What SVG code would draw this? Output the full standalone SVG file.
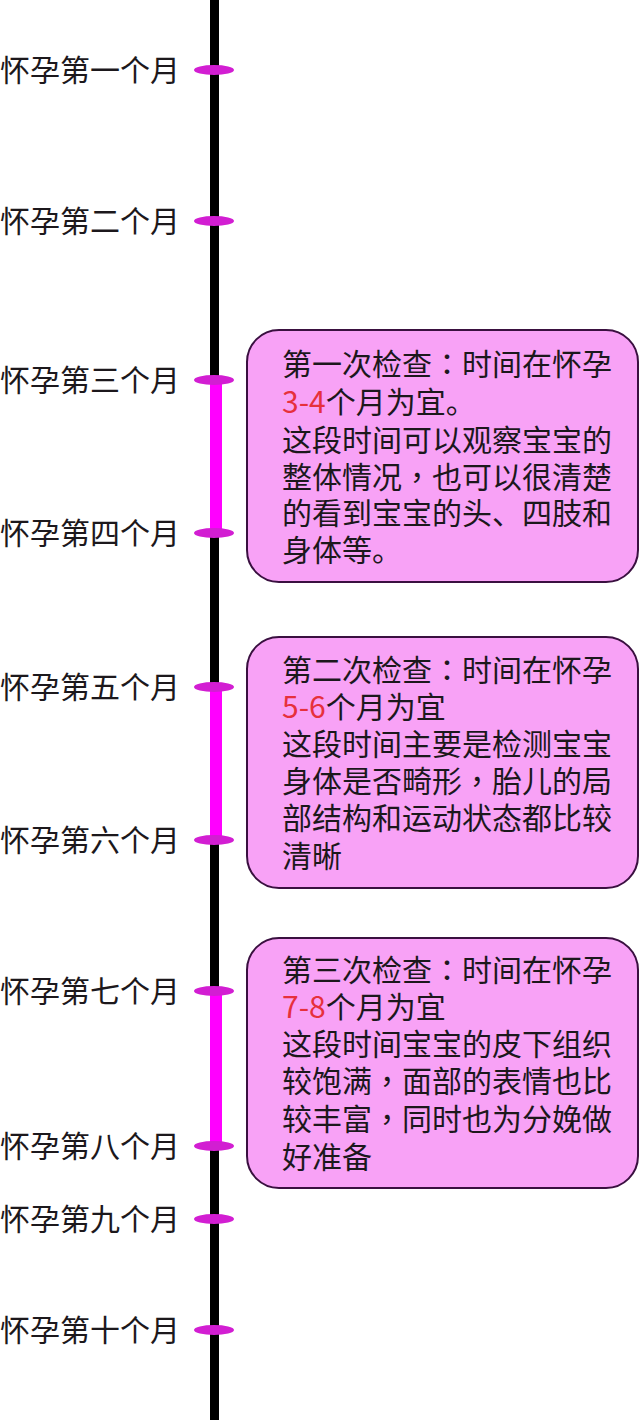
<svg xmlns="http://www.w3.org/2000/svg" width="640" height="1420" viewBox="0 0 640 1420">
<style>
text{font-family:"Noto Sans CJK SC","Noto Sans",sans-serif;font-size:30px;fill:#1c181c}
.red{fill:#e6303c}
.p{font-family:"Noto Sans CJK TC","Noto Sans CJK SC",sans-serif}
.tick{fill:#d21ed2}
.bar{fill:#ff00ff}
.box{fill:#f8a2f6;stroke:#3a1040;stroke-width:2}
</style>
<rect width="640" height="1420" fill="#ffffff"/>
<g id="axis">
<rect x="210" y="0" width="9" height="1420" fill="#000000"/>
</g>
<g id="connectors">
<rect class="bar" x="210" y="380" width="12" height="153"/>
<rect class="bar" x="210" y="687" width="12" height="153"/>
<rect class="bar" x="210" y="991" width="12" height="155"/>
</g>
<g id="month1"><ellipse class="tick" cx="214" cy="70" rx="20" ry="5"/><text x="0" y="81">怀孕第一个月</text></g>
<g id="month2"><ellipse class="tick" cx="214" cy="221" rx="20" ry="5"/><text x="0" y="232">怀孕第二个月</text></g>
<g id="month3"><ellipse class="tick" cx="214" cy="380" rx="20" ry="5"/><text x="0" y="391">怀孕第三个月</text></g>
<g id="month4"><ellipse class="tick" cx="214" cy="533" rx="20" ry="5"/><text x="0" y="544">怀孕第四个月</text></g>
<g id="month5"><ellipse class="tick" cx="214" cy="687" rx="20" ry="5"/><text x="0" y="698">怀孕第五个月</text></g>
<g id="month6"><ellipse class="tick" cx="214" cy="840" rx="20" ry="5"/><text x="0" y="851">怀孕第六个月</text></g>
<g id="month7"><ellipse class="tick" cx="214" cy="991" rx="20" ry="5"/><text x="0" y="1002">怀孕第七个月</text></g>
<g id="month8"><ellipse class="tick" cx="214" cy="1146" rx="20" ry="5"/><text x="0" y="1157">怀孕第八个月</text></g>
<g id="month9"><ellipse class="tick" cx="214" cy="1219" rx="20" ry="5"/><text x="0" y="1230">怀孕第九个月</text></g>
<g id="month10"><ellipse class="tick" cx="214" cy="1330" rx="20" ry="5"/><text x="0" y="1341">怀孕第十个月</text></g>
<g id="check1">
<rect class="box" x="247" y="330" width="391" height="252" rx="32"/>
<text x="282" y="375">第一次检查<tspan class="p">：</tspan>时间在怀孕<tspan x="282" y="413" class="red">3-4</tspan>个月为宜。<tspan x="282" y="451">这段时间可以观察宝宝的</tspan><tspan x="282" y="488">整体情况<tspan class="p">，</tspan>也可以很清楚</tspan><tspan x="282" y="524">的看到宝宝的头、四肢和</tspan><tspan x="282" y="561">身体等。</tspan></text>
</g>
<g id="check2">
<rect class="box" x="247" y="637" width="391" height="251" rx="32"/>
<text x="282" y="681">第二次检查<tspan class="p">：</tspan>时间在怀孕<tspan x="282" y="718" class="red">5-6</tspan>个月为宜<tspan x="282" y="755">这段时间主要是检测宝宝</tspan><tspan x="282" y="792">身体是否畸形<tspan class="p">，</tspan>胎儿的局</tspan><tspan x="282" y="829">部结构和运动状态都比较</tspan><tspan x="282" y="867">清晰</tspan></text>
</g>
<g id="check3">
<rect class="box" x="247" y="938" width="391" height="250" rx="32"/>
<text x="282" y="981">第三次检查<tspan class="p">：</tspan>时间在怀孕<tspan x="282" y="1018" class="red">7-8</tspan>个月为宜<tspan x="282" y="1055">这段时间宝宝的皮下组织</tspan><tspan x="282" y="1092">较饱满<tspan class="p">，</tspan>面部的表情也比</tspan><tspan x="282" y="1130">较丰富<tspan class="p">，</tspan>同时也为分娩做</tspan><tspan x="282" y="1168">好准备</tspan></text>
</g>
</svg>
